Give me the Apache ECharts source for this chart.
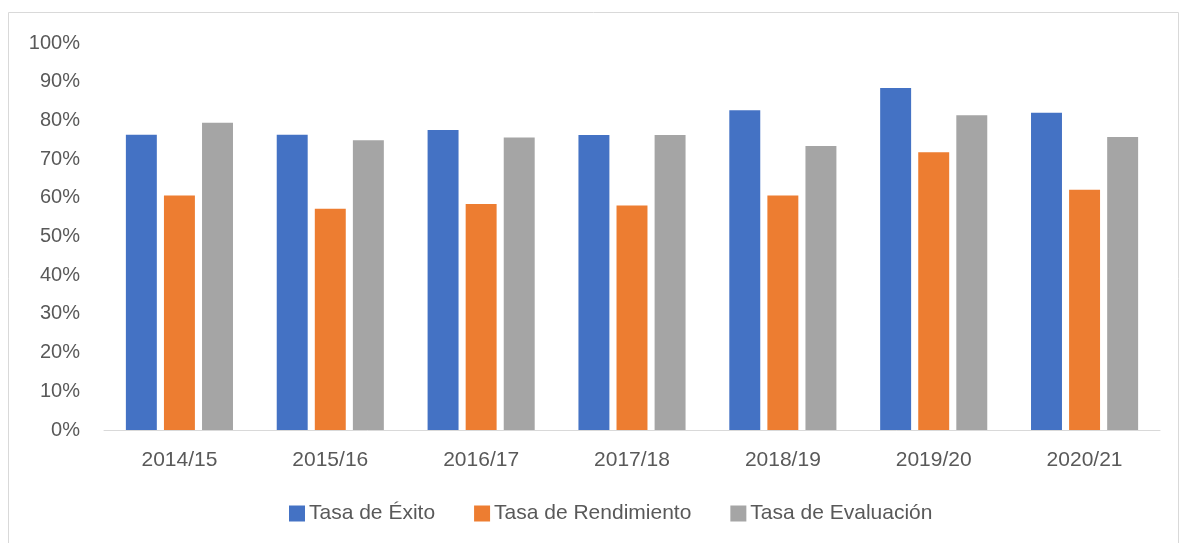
<!DOCTYPE html>
<html lang="es">
<head>
  <meta charset="utf-8">
  <script src="https://cdn.jsdelivr.net/npm/echarts@6/dist/echarts.min.js"></script>
</head>
<body style="margin:0;background:#fff">
  <div id="container" style="width:1190px;height:543px"></div>
  <script>
    // datos (en %)
    var cursos = ['2014/15', '2015/16', '2016/17', '2017/18', '2018/19', '2019/20', '2020/21'];
    var tasaExito = [76.3, 76.3, 77.5, 76.2, 82.6, 88.4, 82.0];
    var tasaRendimiento = [60.6, 57.2, 58.4, 58.0, 60.6, 71.8, 62.1];
    var tasaEvaluacion = [79.4, 74.9, 75.6, 76.2, 73.4, 81.3, 75.7];

    var font = 'Liberation Sans';
    var chart = echarts.init(document.getElementById('container'), null, { renderer: 'canvas' });

    var option = {
      color: ['#4472C4', '#ED7D31', '#A5A5A5'],
      textStyle: { fontFamily: font },
      graphic: [{
        type: 'rect',
        shape: { x: 8.5, y: 12.5, width: 1170, height: 540 },
        style: { fill: 'none', stroke: '#D9D9D9', lineWidth: 1 },
        silent: true
      }],
      grid: { left: 104, right: 30, top: 43, bottom: 113 },
      legend: {
        bottom: 14,
        left: 284,
        itemWidth: 16,
        itemHeight: 16,
        itemGap: 39,
        icon: 'rect',
        textStyle: { fontSize: 21, color: '#595959', fontFamily: font, padding: [0, 0, 0, -1] }
      },
      xAxis: {
        type: 'category',
        data: cursos,
        axisLine: { lineStyle: { color: '#D9D9D9', width: 1 } },
        axisTick: { show: false },
        axisLabel: { color: '#595959', fontSize: 21, margin: 20, fontFamily: font }
      },
      yAxis: {
        type: 'value',
        min: 0,
        max: 100,
        interval: 10,
        splitLine: { show: false },
        axisLabel: { color: '#595959', fontSize: 20, margin: 24, formatter: '{value}%', fontFamily: font }
      },
      series: [
        { name: 'Tasa de Éxito', type: 'bar', data: tasaExito, barGap: '23%', barCategoryGap: '29%' },
        { name: 'Tasa de Rendimiento', type: 'bar', data: tasaRendimiento },
        { name: 'Tasa de Evaluación', type: 'bar', data: tasaEvaluacion }
      ]
    };

    chart.setOption(option);
  </script>
</body>
</html>
